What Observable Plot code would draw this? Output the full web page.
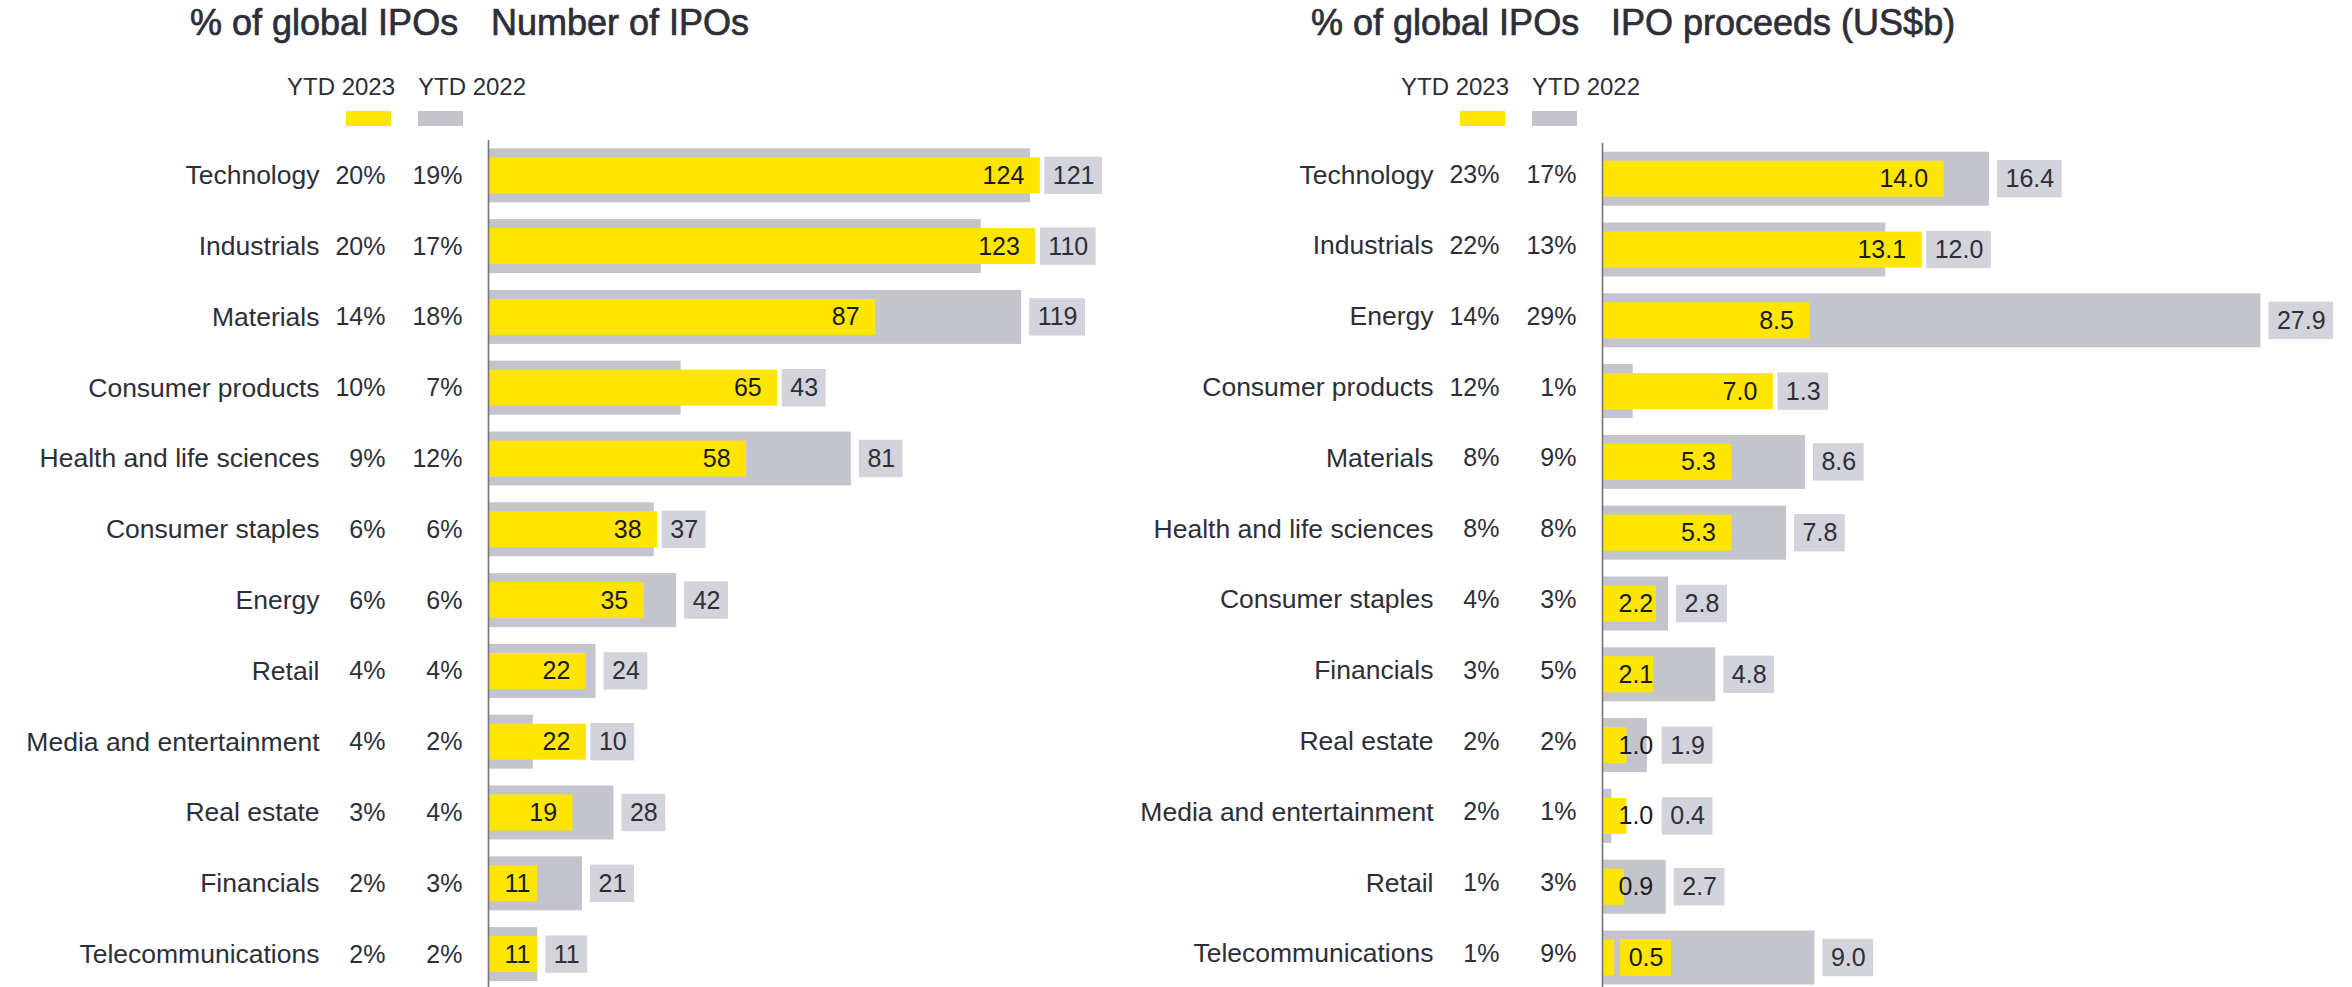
<!DOCTYPE html>
<html>
<head>
<meta charset="utf-8">
<script src="https://cdn.jsdelivr.net/npm/d3@7"></script>
<script src="https://cdn.jsdelivr.net/npm/@observablehq/plot@0.6"></script>
<style>
html, body { margin: 0; padding: 0; background: #ffffff; }
#root { position: relative; width: 2352px; height: 987px; overflow: hidden;
  font-family: "Liberation Sans", Arial, sans-serif; color: #2e2e38; }
.t { position: absolute; white-space: nowrap; line-height: 1; }
.title { font-size: 36px; font-weight: normal; -webkit-text-stroke: 0.7px #2e2e38; }
.leg { font-size: 24px; }
.sw { position: absolute; top: 111px; width: 45px; height: 15px; }
.panel { position: absolute; top: 0; height: 987px; }
.panel svg { position: absolute; top: 0; left: 0; }
</style>
</head>
<body>
<div id="root"></div>
<script>
// ---------------- DATA ----------------
const countCategories = ["Technology", "Industrials", "Materials", "Consumer products",
  "Health and life sciences", "Consumer staples", "Energy", "Retail",
  "Media and entertainment", "Real estate", "Financials", "Telecommunications"];
const countYTD2023 = [124, 123, 87, 65, 58, 38, 35, 22, 22, 19, 11, 11];
const countYTD2022 = [121, 110, 119, 43, 81, 37, 42, 24, 10, 28, 21, 11];
const countShare2023 = ["20%", "20%", "14%", "10%", "9%", "6%", "6%", "4%", "4%", "3%", "2%", "2%"];
const countShare2022 = ["19%", "17%", "18%", "7%", "12%", "6%", "6%", "4%", "2%", "4%", "3%", "2%"];

const proceedsCategories = ["Technology", "Industrials", "Energy", "Consumer products",
  "Materials", "Health and life sciences", "Consumer staples", "Financials",
  "Real estate", "Media and entertainment", "Retail", "Telecommunications"];
const proceedsYTD2023 = [14.0, 13.1, 8.5, 7.0, 5.3, 5.3, 2.2, 2.1, 1.0, 1.0, 0.9, 0.5];
const proceedsYTD2022 = [16.4, 12.0, 27.9, 1.3, 8.6, 7.8, 2.8, 4.8, 1.9, 0.4, 2.7, 9.0];
const proceedsShare2023 = ["23%", "22%", "14%", "12%", "8%", "8%", "4%", "3%", "2%", "2%", "1%", "1%"];
const proceedsShare2022 = ["17%", "13%", "29%", "1%", "9%", "8%", "3%", "5%", "2%", "1%", "3%", "9%"];

const legendLabels = ["YTD 2023", "YTD 2022"];
const shareTitle = "% of global IPOs";
const countTitle = "Number of IPOs";
const proceedsTitle = "IPO proceeds (US$b)";

// ---------------- STYLE / LAYOUT ----------------
const YELLOW = "#ffe600", GRAY = "#c4c4cd", BOX = "#d3d3db", INK = "#2e2e38", INK_DARK = "#1a1a24";
const FONT = '"Liberation Sans", Arial, sans-serif';
const VALUE_SIZE = 25, CAT_SIZE = 26.5, SHARE_SIZE = 25;
const STEP = 70.8, PAD_INNER = 0.2373;

const root = document.getElementById("root");
const ctx = document.createElement("canvas").getContext("2d");
function textW(s, size) { ctx.font = `${size}px ${FONT}`; return ctx.measureText(s).width; }

function addText(txt, cls, x, baseline, size) {
  const d = document.createElement("div");
  d.className = "t " + cls;
  d.textContent = txt;
  d.style.left = x + "px";
  d.style.top = (baseline - 0.8465 * size) + "px";
  root.appendChild(d);
}
function addSwatch(color, x) {
  const d = document.createElement("div");
  d.className = "sw";
  d.style.left = x + "px";
  d.style.background = color;
  root.appendChild(d);
}

function makeScale(domain, range) {
  if (Plot.scale) {
    const s = Plot.scale({x: {domain, range}});
    return {apply: v => s.apply(v), invert: p => s.invert(p)};
  }
  const s = d3.scaleLinear(domain, range);
  return {apply: v => s(v), invert: p => s.invert(p)};
}

function drawPanel(L, D) {
  // header
  addText(shareTitle, "title", L.title1X, 35, 36);
  addText(D.title, "title", L.title2X, 35, 36);
  addText(legendLabels[0], "leg", L.leg1X, 95, 24);
  addText(legendLabels[1], "leg", L.leg2X, 95, 24);
  addSwatch(YELLOW, L.sw1X);
  addSwatch(GRAY, L.sw2X);

  const rows = D.categories.map((c, i) => ({c, a: D.v23[i], b: D.v22[i], sa: D.s23[i], sb: D.s22[i]}));
  const grayRange = [L.axis, L.axis + L.max * L.kGray];
  const yellowRange = [L.axis, L.axis + L.max * L.kYellow];
  const gx = makeScale([0, L.max], grayRange);
  const yx = makeScale([0, L.max], yellowRange);

  for (const r of rows) {
    r.la = D.fmt(r.a);
    r.lb = D.fmt(r.b);
    const wa = textW(r.la, VALUE_SIZE), wb = textW(r.lb, VALUE_SIZE);
    const ya = yx.apply(r.a), gb = gx.apply(r.b);
    let aEnd, aRight = ya;
    r.boxed = false;
    if (ya - L.axis < 16) {
      const s = ya + 14;
      aEnd = s + wa;
      r.ax1 = yx.invert(s - 8);
      r.ax2 = yx.invert(aEnd + 8);
      r.boxed = true;
      aRight = aEnd + 8;
    } else {
      aEnd = Math.max(ya - 16, L.axis + 16 + wa);
      if (aEnd > ya) aRight = aEnd + 4.5;
    }
    r.aText = yx.invert(aEnd);
    const bs = Math.max(gb + 8, aRight + 4.5);
    const bw = wb + 16;
    r.bx1 = gx.invert(bs);
    r.bx2 = gx.invert(bs + bw);
    r.bxm = gx.invert(bs + bw / 2);
  }

  const yScale = {
    domain: D.categories,
    range: [L.bandTop, L.bandTop + STEP * (D.categories.length - PAD_INNER)],
    paddingInner: PAD_INNER, paddingOuter: 0, round: false, axis: null
  };
  const common = {
    width: L.width, height: 987,
    marginLeft: L.axis, marginRight: 0, marginTop: L.top, marginBottom: 0,
    style: {background: "transparent", fontFamily: FONT, overflow: "visible"}
  };

  const base = Plot.plot({
    ...common,
    x: {domain: [0, L.max], range: grayRange, axis: null},
    y: yScale,
    marks: [
      Plot.barX(rows, {x: "b", y: "c", fill: GRAY}),
      Plot.barX(rows, {x1: "bx1", x2: "bx2", y: "c", fill: BOX, insetTop: 8.3, insetBottom: 8.3}),
      Plot.text(rows, {x: "bxm", y: "c", text: "lb", fill: INK, fontSize: VALUE_SIZE, textAnchor: "middle"}),
      Plot.text(rows, {y: "c", text: "c", frameAnchor: "left", dx: -169, dy: L.labelDy, textAnchor: "end", fontSize: CAT_SIZE, fill: INK}),
      Plot.text(rows, {y: "c", text: "sa", frameAnchor: "left", dx: -103, dy: L.labelDy, textAnchor: "end", fontSize: SHARE_SIZE, fill: INK}),
      Plot.text(rows, {y: "c", text: "sb", frameAnchor: "left", dx: -26, dy: L.labelDy, textAnchor: "end", fontSize: SHARE_SIZE, fill: INK})
    ]
  });

  const overlay = Plot.plot({
    ...common,
    x: {domain: [0, L.max], range: yellowRange, axis: null},
    y: yScale,
    marks: [
      Plot.barX(rows, {x: "a", y: "c", fill: YELLOW, insetTop: 9, insetBottom: 9}),
      Plot.barX(rows.filter(r => r.boxed), {x1: "ax1", x2: "ax2", y: "c", fill: YELLOW, insetTop: 8.5, insetBottom: 8.5}),
      Plot.text(rows, {x: "aText", y: "c", text: "la", textAnchor: "end", fontSize: VALUE_SIZE, fill: INK_DARK}),
      Plot.ruleX([0], {stroke: "#74747f", strokeWidth: 1.6})
    ]
  });

  const div = document.createElement("div");
  div.className = "panel";
  div.style.left = L.left + "px";
  div.style.width = L.width + "px";
  div.appendChild(base);
  div.appendChild(overlay);
  root.appendChild(div);
}

drawPanel(
  {left: 0, width: 1116, axis: 488, top: 140, bandTop: 148.3, max: 140, kGray: 4.48, kYellow: 4.45, labelDy: 0,
   title1X: 190, title2X: 491, leg1X: 287, leg2X: 418, sw1X: 346, sw2X: 418},
  {categories: countCategories, v23: countYTD2023, v22: countYTD2022,
   s23: countShare2023, s22: countShare2022, fmt: d3.format("d"), title: countTitle}
);
drawPanel(
  {left: 1114, width: 1238, axis: 488, top: 143, bandTop: 151.7, max: 30, kGray: 23.6, kYellow: 24.4, labelDy: -4,
   title1X: 1311, title2X: 1611, leg1X: 1401, leg2X: 1532, sw1X: 1460, sw2X: 1532},
  {categories: proceedsCategories, v23: proceedsYTD2023, v22: proceedsYTD2022,
   s23: proceedsShare2023, s22: proceedsShare2022, fmt: d3.format(".1f"), title: proceedsTitle}
);
</script>
</body>
</html>
